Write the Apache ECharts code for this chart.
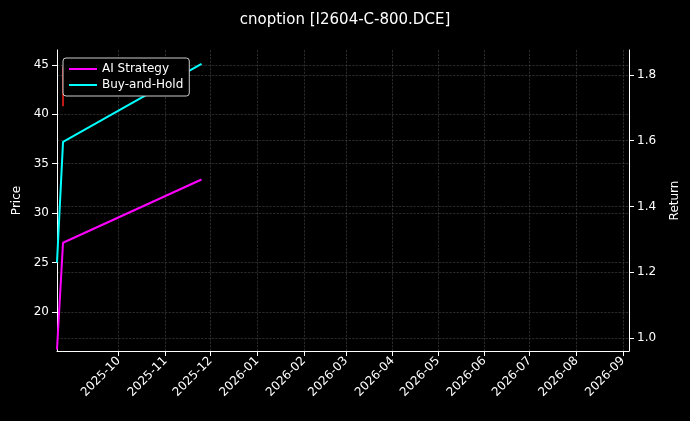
<!DOCTYPE html>
<html><head><meta charset="utf-8">
<script src="https://cdn.jsdelivr.net/npm/echarts@6/dist/echarts.min.js"></script>
<style>html,body{margin:0;background:#000}#c{width:690px;height:421px}</style>
</head><body><div id="c"></div>
<script>
const dates = ['2025-08-21','2025-08-25','2025-11-25'];
const aiStrategy = [16.2, 27.0, 33.4];
const buyHold = [25.0, 37.2, 45.1];
const markerDates = ['2025-08-25','2025-08-25'];
const markerVals = [40.8, 44.8];
const priceTicks = [20,25,30,35,40,45];
const returnTicks = [1.0,1.2,1.4,1.6,1.8];

const ts = d => new Date(d + 'T00:00:00Z').getTime();
const monthTicks = [];
for (let m = 9; m <= 20; m++) {
  const y = 2025 + Math.floor(m / 12), mm = m % 12;
  monthTicks.push(Date.UTC(y, mm, 1));
}
const font = 'DejaVu Sans';
const grid = { color: '#444', type: 'dashed', width: 0.6 };
const chart = echarts.init(document.getElementById('c'));
chart.setOption({
  backgroundColor: '#000',
  animation: false,
  title: { text: 'cnoption [I2604-C-800.DCE]', left: 'center', top: 8,
    textStyle: { color: '#fff', fontSize: 15, fontWeight: 'normal', fontFamily: font } },
  grid: { left: 57, right: 61, top: 50, bottom: 70 },
  legend: { left: 63, top: 58, orient: 'vertical', itemGap: 4, itemWidth: 28, itemHeight: 2,
    backgroundColor: '#000', borderColor: '#ccc', borderWidth: 1, borderRadius: 3, padding: [5, 6],
    textStyle: { color: '#fff', fontSize: 12, fontFamily: font },
    data: [{ name: 'AI Strategy', icon: 'rect' }, { name: 'Buy-and-Hold', icon: 'rect' }] },
  xAxis: {
    type: 'value', min: ts('2025-08-21'), max: ts('2026-09-05'),
    axisLine: { lineStyle: { color: '#fff' } },
    axisTick: { show: true, lineStyle: { color: '#fff' }, customValues: monthTicks },
    axisLabel: { color: '#fff', rotate: 45, fontSize: 12, fontFamily: font, customValues: monthTicks,
      formatter: v => { const d = new Date(v); return d.getUTCFullYear() + '-' + String(d.getUTCMonth() + 1).padStart(2, '0'); } },
    splitLine: { show: true, lineStyle: grid }
  },
  yAxis: [
    { type: 'value', min: 16.05, max: 46.5, name: 'Price', nameLocation: 'middle', nameGap: 34,
      nameTextStyle: { color: '#fff', fontSize: 12, fontFamily: font },
      axisLine: { show: true, lineStyle: { color: '#fff' } },
      axisTick: { show: true, customValues: priceTicks },
      axisLabel: { color: '#fff', fontSize: 12, fontFamily: font, customValues: priceTicks },
      splitLine: { show: true, lineStyle: grid } },
    { type: 'value', min: 0.96, max: 1.876, name: 'Return', nameLocation: 'middle', nameGap: 40,
      nameTextStyle: { color: '#fff', fontSize: 12, fontFamily: font },
      axisLine: { show: true, lineStyle: { color: '#fff' } },
      axisTick: { show: true, customValues: returnTicks },
      axisLabel: { color: '#fff', fontSize: 12, fontFamily: font, customValues: returnTicks,
        formatter: v => v.toFixed(1) },
      splitLine: { show: true, lineStyle: grid } }
  ],
  series: [
    { name: 'marker', type: 'line', yAxisIndex: 0, showSymbol: false, silent: true,
      data: markerDates.map((d, i) => [ts(d), markerVals[i]]), lineStyle: { color: '#ff2020', width: 1.5 } },
    { name: 'AI Strategy', type: 'line', yAxisIndex: 0, showSymbol: false, color: '#ff00ff',
      data: dates.map((d, i) => [ts(d), aiStrategy[i]]), lineStyle: { width: 2 } },
    { name: 'Buy-and-Hold', type: 'line', yAxisIndex: 0, showSymbol: false, color: '#00ffff',
      data: dates.map((d, i) => [ts(d), buyHold[i]]), lineStyle: { width: 2 } }
  ]
});
</script></body></html>
